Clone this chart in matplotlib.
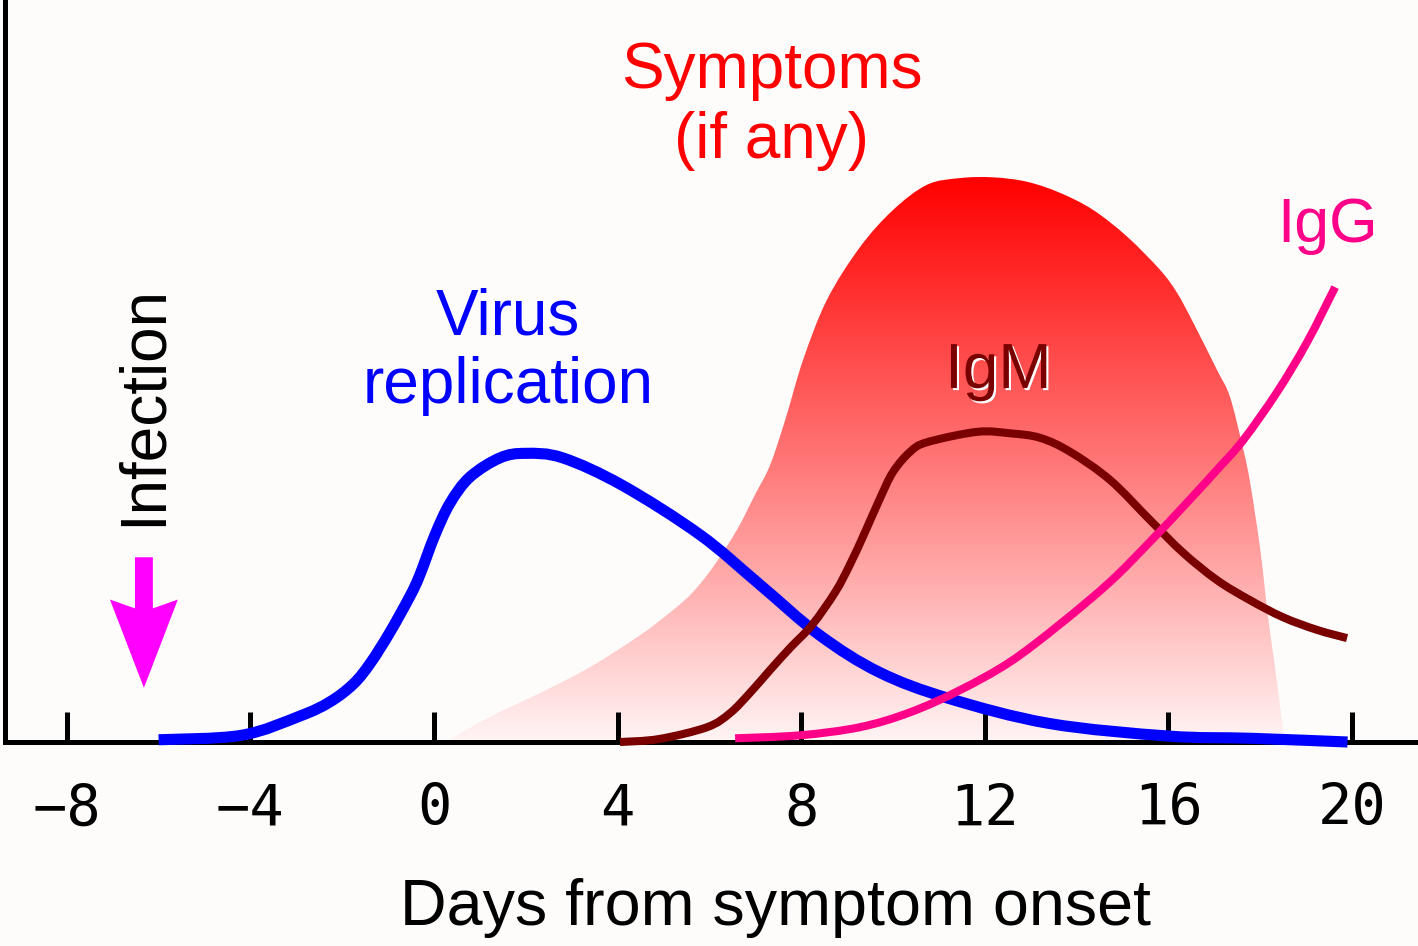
import numpy as np
import matplotlib
matplotlib.use("Agg")
import matplotlib.pyplot as plt
from matplotlib.colors import LinearSegmentedColormap
from matplotlib.patches import FancyArrow, PathPatch
from matplotlib.path import Path
import matplotlib.patheffects as pe

# curves (x = days from symptom onset, y = relative level 0-100)
virus_days = [-6.0, -4.2, -2.92, -2.27, -1.76, -1.39, -0.96, -0.52, -0.31, 0.02, 0.35, 0.78, 1.44, 2.0, 2.8, 4.1, 5.8, 7.1, 8.4, 9.7, 11.2, 13.4, 16.0, 17.8, 19.9]
virus_level = [0.3, 0.9, 3.5, 5.4, 7.8, 10.6, 14.8, 19.7, 22.5, 27.9, 32.2, 35.7, 38.3, 38.9, 38.3, 34.6, 27.9, 21.2, 14.4, 9.4, 5.9, 2.5, 0.8, 0.5, 0.0]

igm_days = [4.05, 4.9, 5.95, 6.45, 6.88, 7.32, 7.76, 8.24, 8.74, 9.06, 9.39, 9.72, 10.0, 10.37, 10.74, 11.83, 12.55, 13.2, 13.86, 14.73, 15.6, 16.32, 17.06, 17.78, 18.5, 19.24, 19.89]
igm_level = [0.0, 0.4, 2.0, 3.9, 6.6, 9.7, 12.7, 15.8, 20.2, 23.9, 28.3, 32.9, 36.4, 39.1, 40.4, 41.8, 41.6, 41.0, 39.1, 35.3, 29.9, 25.5, 21.8, 19.1, 16.8, 15.1, 14.0]

igg_days = [6.56, 7.97, 9.28, 10.37, 11.46, 12.55, 13.64, 14.73, 15.6, 16.32, 17.06, 17.63, 18.37, 19.02, 19.63]
igg_level = [0.5, 0.9, 2.0, 4.0, 7.0, 10.8, 15.9, 21.6, 27.0, 31.7, 36.7, 40.7, 47.2, 53.9, 61.3]

sym_days = [0.24, 1.22, 2.31, 3.4, 4.49, 5.21, 5.64, 6.08, 6.6, 6.99, 7.32, 7.65, 8.04, 8.56, 9.28, 10.0, 10.74, 11.46, 12.18, 12.92, 13.64, 14.36, 15.1, 15.82, 16.19, 16.54, 17.06, 17.34, 17.63, 17.78, 18.0, 18.17, 18.32, 18.5, 18.54]
sym_level = [0.0, 3.4, 6.6, 10.1, 14.4, 17.8, 20.2, 23.6, 28.6, 33.3, 37.3, 43.4, 51.5, 59.6, 66.7, 71.7, 75.1, 76.0, 76.1, 75.5, 74.0, 71.7, 68.1, 63.6, 60.5, 56.5, 50.1, 46.5, 39.4, 34.9, 25.9, 16.8, 10.1, 1.6, 0.0]

tick_days = [-8, -4, 0, 4, 8, 12, 16, 20]
infection_day = -6.32


def smooth_path(xs, ys, close=False):
    # cubic bezier through the read points (catmull-rom tangents)
    p = np.column_stack([xs, ys])
    n = len(p)
    verts = [p[0]]
    codes = [Path.MOVETO]
    for i in range(n - 1):
        p0 = p[i - 1] if i > 0 else p[i]
        p3 = p[i + 2] if i + 2 < n else p[i + 1]
        c1 = p[i] + (p[i + 1] - p0) / 6
        c2 = p[i + 1] - (p3 - p[i]) / 6
        verts += [c1, c2, p[i + 1]]
        codes += [Path.CURVE4] * 3
    if close:
        verts += [p[0], p[0]]
        codes += [Path.LINETO, Path.CLOSEPOLY]
    return Path(verts, codes)


bg = "#fefcfb"
fig = plt.figure(figsize=(14.18, 9.46), dpi=100, facecolor=bg)
ax = fig.add_axes([5 / 1418, 204 / 946, 1410 / 1418, 742 / 946])
ax.set_facecolor(bg)

# symptoms area with vertical red gradient
sym_path = smooth_path(sym_days, sym_level, close=True)
cmap = LinearSegmentedColormap.from_list("sym", ["#fff4f4", "#ff7676", "#ff0000"])
grad = np.linspace(0, 1, 256).reshape(-1, 1)
img = ax.imshow(grad, cmap=cmap, origin="lower", aspect="auto",
                extent=[min(sym_days), max(sym_days), 0, max(sym_level)], zorder=1)
img.set_clip_path(sym_path, transform=ax.transData)

for xs, ys, c, w, z in [(virus_days, virus_level, "#0000ff", 8, 4),
                        (igm_days, igm_level, "#7a0000", 5.8, 5),
                        (igg_days, igg_level, "#ff0088", 5.8, 6)]:
    ax.add_patch(PathPatch(smooth_path(xs, ys), fill=False, edgecolor=c, lw=w,
                           capstyle="butt", joinstyle="round", zorder=z, clip_on=False))

ax.set_xlim(-9.346, 21.37)
ax.set_ylim(0, 100)

# infection arrow
ax.add_patch(FancyArrow(infection_day, 24.9, 0, -17.6, width=0.39, head_width=1.48,
                        head_length=11.9, length_includes_head=True, overhang=0.1,
                        color="#ff00ff", lw=0, zorder=6))

font = "Liberation Sans"
ax.text(infection_day, 45.4, "Infection", rotation=90, ha="center", va="center",
        fontsize=46, family=font, color="black")
ax.text(7.36, 88.1, "Symptoms", ha="center", va="baseline", fontsize=46, family=font, color="#ff0000")
ax.text(7.36, 78.7, "(if any)", ha="center", va="baseline", fontsize=46, family=font, color="#ff0000")
ax.text(1.61, 54.9, "Virus", ha="center", va="baseline", fontsize=46, family=font, color="#0000ff")
ax.text(1.61, 45.7, "replication", ha="center", va="baseline", fontsize=46, family=font, color="#0000ff")
ax.text(12.29, 47.7, "IgM", ha="center", va="baseline", fontsize=46, family=font, color="#7a0000", zorder=7,
        path_effects=[pe.withSimplePatchShadow(offset=(1.5, -1.5), shadow_rgbFace="white", alpha=1.0)])
ax.text(19.46, 67.4, "IgG", ha="center", va="baseline", fontsize=45, family=font, color="#ff0088")

fig.text(776 / 1418, 1 - 925 / 946, "Days from symptom onset", ha="center", va="baseline",
         fontsize=46.5, family=font, color="black")

for s in ["top", "right"]:
    ax.spines[s].set_visible(False)
for s in ["left", "bottom"]:
    ax.spines[s].set_linewidth(3.6)
    ax.spines[s].set_color("black")
ax.set_yticks([])
ax.set_xticks(tick_days)
ax.set_xticklabels([str(d) if d >= 0 else "\u2212" + str(-d) for d in tick_days],
                   family="DejaVu Sans Mono", fontsize=41)
ax.tick_params(axis="x", direction="in", length=21.6, width=3.6, pad=29, color="black")

fig.savefig("out.png", dpi=100, facecolor=bg)
